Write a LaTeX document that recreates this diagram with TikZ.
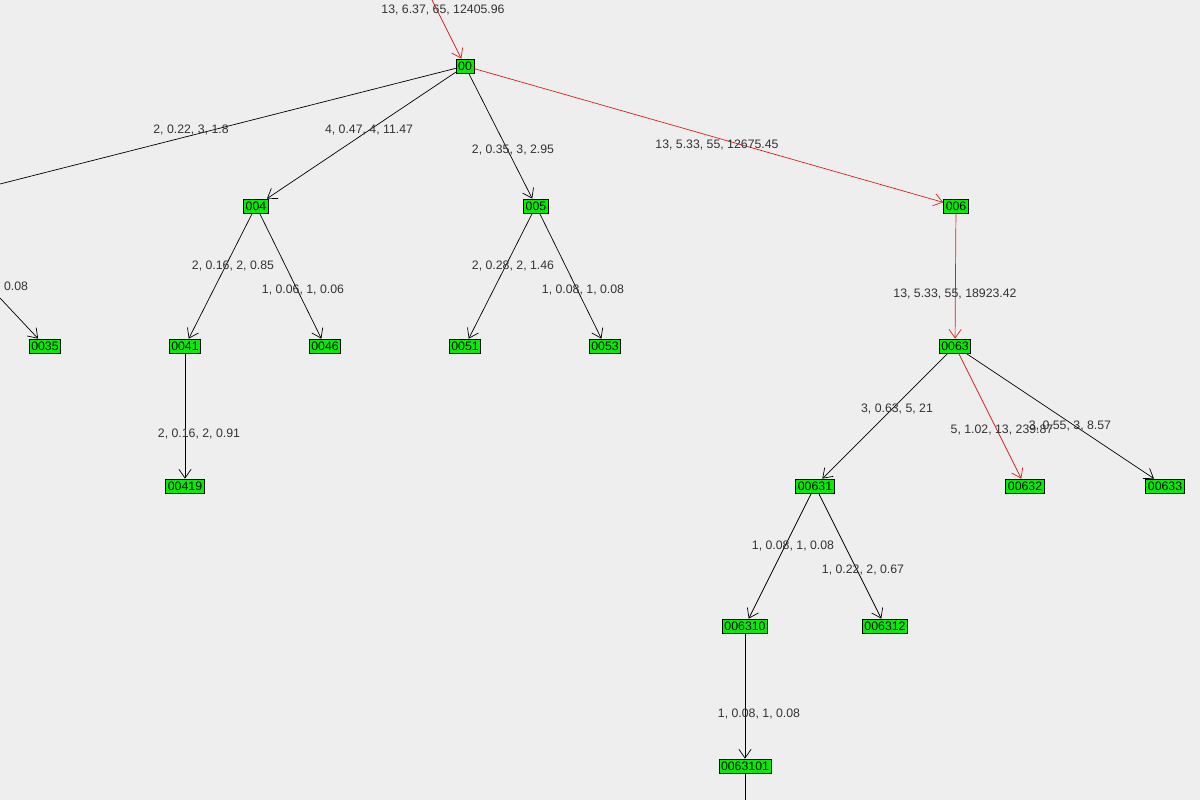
\documentclass[tikz,border=0pt]{standalone}
\usepackage{fontspec}
\setmainfont{Liberation Sans}
\usetikzlibrary{arrows.meta}
\definecolor{bg}{HTML}{EEEEEE}
\definecolor{leaf}{HTML}{00F000}
\definecolor{redge}{HTML}{E02020}
\tikzset{
  tnode/.style={draw=black,fill=leaf,inner sep=1.2pt,minimum height=14*0.02cm,font=\fontsize{7}{8}\selectfont},
  tedge/.style={-{Straight Barb[length=5pt,width=7pt]},black},
  hot/.style={tedge,draw=redge},
  elab/.style={font=\fontsize{7}{8}\selectfont,text=black!80}
}
\begin{document}
\begin{tikzpicture}[x=0.02cm,y=-0.02cm]
\fill[bg] (0,0) rectangle (1200,800);
\useasboundingbox (0,0) rectangle (1200,800);

% nodes
\node[tnode] (n00) at (465,66) {00};
\node[tnode] (n004) at (256,206) {004};
\node[tnode] (n005) at (536,206) {005};
\node[tnode] (n006) at (956,206) {006};
\node[tnode] (n0035) at (45,346) {0035};
\node[tnode] (n0041) at (185,346) {0041};
\node[tnode] (n0046) at (325,346) {0046};
\node[tnode] (n0051) at (465,346) {0051};
\node[tnode] (n0053) at (605,346) {0053};
\node[tnode] (n0063) at (955,346) {0063};
\node[tnode] (n00419) at (185,486) {00419};
\node[tnode] (n00631) at (815,486) {00631};
\node[tnode] (n00632) at (1025,486) {00632};
\node[tnode] (n00633) at (1165,486) {00633};
\node[tnode] (n006310) at (745,626) {006310};
\node[tnode] (n006312) at (885,626) {006312};
\node[tnode] (n0063101) at (745,766) {0063101};
\coordinate (top) at (432,0);
\coordinate (offa) at (0,184);
\coordinate (offb) at (0,298);
\coordinate (bot) at (745,800);

% edges
\draw[hot] (top) -- (n00);
\draw[black] (n00) -- (offa);
\draw[tedge] (offb) -- (n0035);
\draw[tedge] (n00) -- (n004);
\draw[tedge] (n00) -- (n005);
\draw[hot] (n00) -- (n006);
\draw[tedge] (n004) -- (n0041);
\draw[tedge] (n004) -- (n0046);
\draw[tedge] (n005) -- (n0051);
\draw[tedge] (n005) -- (n0053);
\draw[hot] (n006) -- (n0063);
\draw[tedge] (n0041) -- (n00419);
\draw[tedge] (n0063) -- (n00631);
\draw[hot] (n0063) -- (n00632);
\draw[tedge] (n0063) -- (n00633);
\draw[tedge] (n00631) -- (n006310);
\draw[tedge] (n00631) -- (n006312);
\draw[tedge] (n006310) -- (n0063101);
\draw[black] (n0063101) -- (bot);

% labels
\node[elab] (l00) at (443,10) {13, 6.37, 65, 12405.96};
\node[elab] (loffa) at (191,130) {2, 0.22, 3, 1.8};
\node[elab] (loffb) at (16,286) {0.08};
\node[elab] (l004) at (369,130) {4, 0.47, 4, 11.47};
\node[elab] (l005) at (513,150) {2, 0.35, 3, 2.95};
\node[elab] (l006) at (717,145) {13, 5.33, 55, 12675.45};
\node[elab] (l0041) at (233,266) {2, 0.16, 2, 0.85};
\node[elab] (l0046) at (303,290) {1, 0.06, 1, 0.06};
\node[elab] (l0051) at (513,266) {2, 0.28, 2, 1.46};
\node[elab] (l0053) at (583,290) {1, 0.08, 1, 0.08};
\node[elab] (l0063) at (955,294) {13, 5.33, 55, 18923.42};
\node[elab] (l00419) at (199,434) {2, 0.16, 2, 0.91};
\node[elab] (l00631) at (897,409) {3, 0.63, 5, 21};
\node[elab] (l00632) at (1002,430) {5, 1.02, 13, 239.87};
\node[elab] (l00633) at (1070,426) {3, 0.55, 3, 8.57};
\node[elab] (l006310) at (793,546) {1, 0.08, 1, 0.08};
\node[elab] (l006312) at (863,570) {1, 0.22, 2, 0.67};
\node[elab] (l0063101) at (759,714) {1, 0.08, 1, 0.08};
\end{tikzpicture}
\end{document}
